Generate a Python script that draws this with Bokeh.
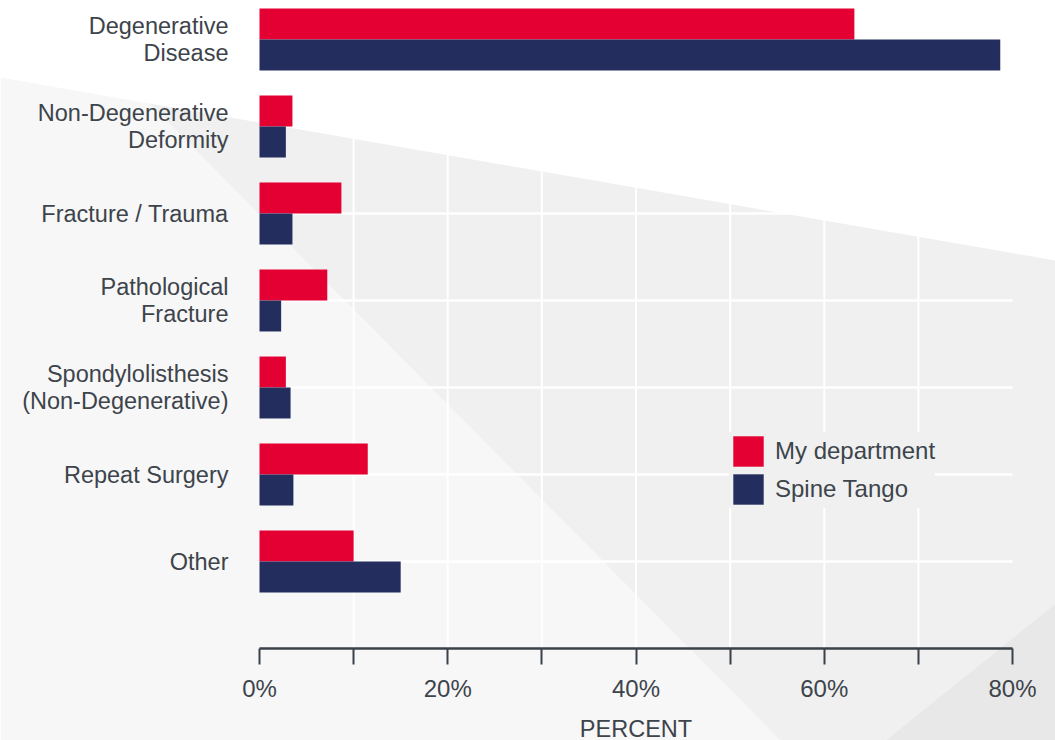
from bokeh.plotting import figure
from bokeh.models import Range1d, LinearAxis, FixedTicker, Legend, LegendItem
from bokeh.core.properties import value
from bokeh.embed import file_html
from bokeh.resources import INLINE

# ---------------- data ----------------
categories = [
    "Degenerative\nDisease",
    "Non-Degenerative\nDeformity",
    "Fracture / Trauma",
    "Pathological\nFracture",
    "Spondylolisthesis\n(Non-Degenerative)",
    "Repeat Surgery",
    "Other",
]
my_department = [63.2, 3.5, 8.7, 7.2, 2.8, 11.5, 10.0]
spine_tango = [78.7, 2.8, 3.5, 2.3, 3.3, 3.6, 15.0]
series_names = ["My department", "Spine Tango"]
tick_values = [0, 10, 20, 30, 40, 50, 60, 70, 80]
tick_labels = ["0%", "", "20%", "", "40%", "", "60%", "", "80%"]

# ---------------- styling ----------------
RED = "#e40032"
NAVY = "#232e5e"
TEXT = "#3d444b"
AXIS = "#3a4148"
FONT = "Liberation Sans"

W, H = 1055, 740
X_START, X_END = -27.517, 84.568
Y_TOP, Y_BOT = -0.4483, 8.0574
BAR_H = 0.356


def px2x(px):
    return X_START + px / W * (X_END - X_START)


def py2y(py):
    return Y_TOP + py / H * (Y_BOT - Y_TOP)


p = figure(
    width=W, height=H,
    x_range=Range1d(X_START, X_END),
    y_range=Range1d(Y_BOT, Y_TOP),
    output_backend="svg", toolbar_location=None,
    x_axis_location=None, y_axis_location=None,
    min_border=0, outline_line_color=None,
    background_fill_color="white", border_fill_color="white",
)
for g in p.grid:
    g.visible = False

# decorative background shapes (page pixel outlines)
shapes = [
    ([0, 149, 780, 0], [77, 103, 740, 740], "#f7f7f7"),
    ([149, 1055, 1055, 885, 780], [103, 260, 603, 740, 740], "#eff0ef"),
    ([1055, 1055, 885], [603, 740, 740], "#e7e8e7"),
]
p.patches(
    xs=[[px2x(v) for v in s[0]] for s in shapes],
    ys=[[py2y(v) for v in s[1]] for s in shapes],
    fill_color=[s[2] for s in shapes], line_color=None,
)

idx = list(range(len(categories)))
n = len(categories)

# grid lines
inner_ticks = [t for t in tick_values if tick_values[0] < t < tick_values[-1]]
p.segment(x0=inner_ticks, x1=inner_ticks, y0=[Y_TOP] * len(inner_ticks),
          y1=[n] * len(inner_ticks), line_color="white", line_width=2)
p.segment(x0=[tick_values[0]] * n, x1=[tick_values[-1]] * n, y0=idx, y1=idx,
          line_color="white", line_width=2.5)

# bars
r1 = p.hbar(y=[i - BAR_H / 2 for i in idx], left=0, right=my_department,
            height=BAR_H, fill_color=RED, line_color=None)
r2 = p.hbar(y=[i + BAR_H / 2 for i in idx], left=0, right=spine_tango,
            height=BAR_H, fill_color=NAVY, line_color=None)

# category labels
p.text(x=[0] * n, y=idx, text=categories, x_offset=-31,
       text_align="right", text_baseline="middle",
       text_font=value(FONT), text_font_size="23.5px",
       text_color=TEXT, text_line_height=1.05)

# x axis
ax = LinearAxis(
    fixed_location=n,
    ticker=FixedTicker(ticks=tick_values, minor_ticks=[]),
    major_label_overrides={t: l for t, l in zip(tick_values, tick_labels)},
    bounds=(tick_values[0], tick_values[-1]),
    axis_label="PERCENT",
)
ax.axis_line_color = AXIS
ax.axis_line_width = 2.5
ax.major_tick_line_color = AXIS
ax.major_tick_line_width = 2
ax.major_tick_out = 16
ax.major_tick_in = 0
ax.minor_tick_out = 0
ax.minor_tick_in = 0
ax.major_label_standoff = 10
ax.major_label_text_font = FONT
ax.major_label_text_font_size = "24px"
ax.major_label_text_color = TEXT
ax.axis_label_standoff = 11
ax.axis_label_text_font = FONT
ax.axis_label_text_font_size = "23.5px"
ax.axis_label_text_font_style = "normal"
ax.axis_label_text_color = TEXT
p.add_layout(ax, "below")

legend = Legend(
    items=[LegendItem(label=series_names[0], renderers=[r1]),
           LegendItem(label=series_names[1], renderers=[r2])],
    location=(729, 232),
    glyph_width=38, glyph_height=38,
    label_standoff=8, spacing=0, padding=0, margin=0,
    background_fill_color="#eff0ef", background_fill_alpha=1,
    border_line_color=None,
    label_text_font=FONT, label_text_font_size="24px", label_text_color=TEXT,
)
p.add_layout(legend)

open("out.html", "w").write(file_html(p, INLINE))
